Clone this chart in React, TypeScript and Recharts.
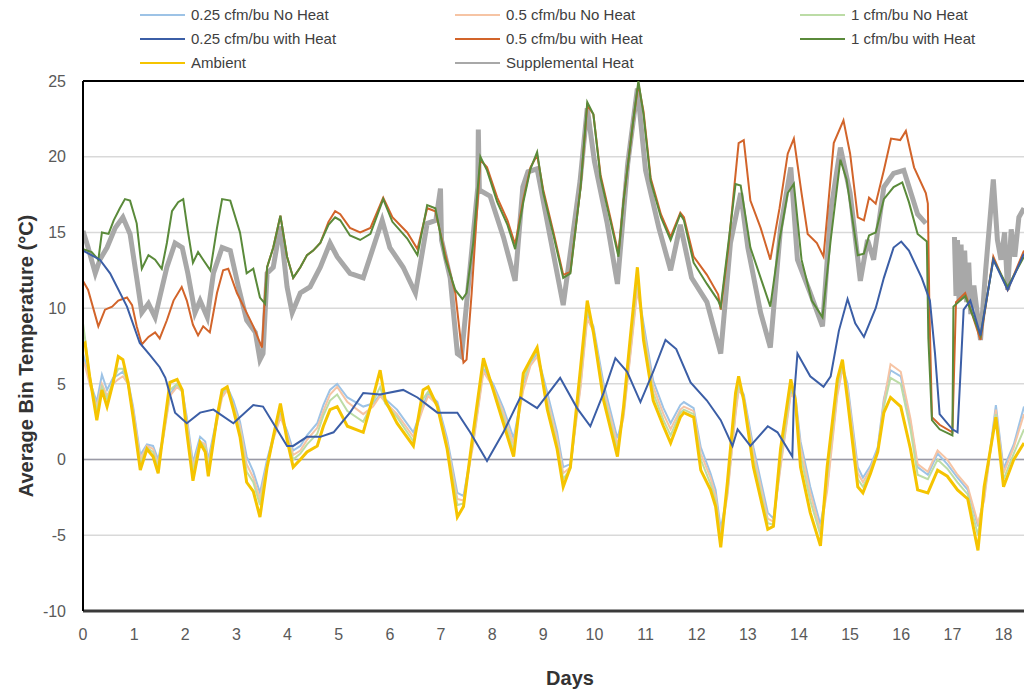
import { LineChart, Line, XAxis, YAxis, CartesianGrid, ReferenceLine, Legend } from "recharts";

// days shared by ambient and the three no-heat bins
const lowDays = [
  0, 0.04, 0.13, 0.27, 0.37, 0.47, 0.59, 0.69, 0.78, 0.88, 0.98, 1.12, 1.25, 1.37, 1.47, 1.57, 1.7, 1.84, 1.94,
  2.03, 2.15, 2.29, 2.39, 2.45, 2.62, 2.72, 2.82, 2.94, 3.07, 3.2, 3.33, 3.46, 3.6, 3.72, 3.86, 3.99, 4.11, 4.25,
  4.38, 4.58, 4.7, 4.83, 4.97, 5.17, 5.48, 5.67, 5.81, 5.91, 6.14, 6.46, 6.65, 6.75, 6.93, 7.12, 7.32, 7.44, 7.63,
  7.83, 8.02, 8.22, 8.42, 8.61, 8.75, 8.88, 9.08, 9.27, 9.39, 9.53, 9.73, 9.86, 9.98, 10.18, 10.45, 10.57, 10.7,
  10.84, 10.96, 11.15, 11.35, 11.49, 11.68, 11.75, 11.94, 12.08, 12.27, 12.37, 12.47, 12.6, 12.76, 12.82, 12.92,
  13.11, 13.39, 13.5, 13.64, 13.84, 13.93, 14.03, 14.22, 14.42, 14.55, 14.75, 14.85, 14.95, 15.15, 15.25, 15.4,
  15.54, 15.66, 15.79, 15.99, 16.18, 16.32, 16.52, 16.71, 16.9, 17.1, 17.3, 17.5, 17.62, 17.85, 18.0, 18.2, 18.4,
];
const ambient = [
  7.6, 7.7, 5.5, 2.6, 4.6, 3.5, 5.1, 6.8, 6.6, 5.1, 2.8, -0.7, 0.7, 0.2, -0.9, 1.8, 5.1, 5.3, 4.6,
  1.8, -1.4, 1.1, 0.5, -1.1, 2.8, 4.6, 4.8, 3.3, 1.5, -1.5, -2.1, -3.8, -0.5, 1.5, 3.7, 1.3, -0.5, 0,
  0.5, 0.9, 2.2, 3.3, 3.5, 2.2, 1.8, 4.1, 5.9, 3.9, 2.4, 0.9, 4.6, 4.8, 3.5, 0.7, -3.8, -3.1, 1.8,
  6.7, 4.6, 2.4, 0.2, 5.7, 6.6, 7.4, 3.3, 0.7, -1.8, -0.5, 6.1, 10.5, 8.4, 3.9, 0.2, 3.5, 8.0,
  12.7, 7.9, 3.9, 2.2, 1.1, 2.8, 3.1, 2.8, -0.7, -2.0, -3.1, -5.8, -1.5, 4.4, 5.5, 3.9,
  -0.5, -4.6, -4.4, 0.7, 5.3, 3.9, -0.5, -3.5, -5.7, -0.5, 5.3, 6.6, 3.9, -1.8, -2.2, -0.9,
  0.5, 3.1, 4.1, 3.5, 0.7, -2.0, -2.2, -0.7, -1.1, -2.0, -2.6, -6.0, -1.8, 2.8, -1.8, 0, 1.1,
];
const noHeat025 = [
  7.0, 6.5, 5.2, 3.8, 5.6, 4.6, 5.4, 5.6, 5.8, 5.2, 3.5, 0.3, 1.0, 0.9, 0.0, 1.6, 4.3, 5.0, 4.6,
  2.8, -0.2, 1.5, 1.2, 0.0, 2.8, 4.3, 4.8, 3.9, 2.5, 0.2, -0.8, -2.2, 0.0, 1.5, 3.0, 1.9, 0.6, 0.9,
  1.6, 2.4, 3.6, 4.6, 5.0, 4.1, 3.5, 3.7, 4.3, 4.0, 3.3, 1.8, 3.6, 4.4, 3.8, 1.4, -2.2, -2.4, 1.2,
  6.0, 5.0, 3.4, 1.4, 4.8, 6.4, 7.0, 4.4, 1.8, -0.5, -0.3, 5.0, 9.6, 8.8, 5.0, 1.4, 3.0, 7.0,
  11.5, 9.0, 5.2, 3.4, 2.4, 3.6, 3.8, 3.4, 0.8, -0.9, -2.0, -4.6, -2.2, 3.2, 4.8, 4.3,
  0.8, -3.5, -3.9, -0.3, 4.5, 4.2, 1.2, -1.8, -4.3, -1.8, 4.5, 6.2, 5.0, -0.5, -1.2, -0.4,
  0.8, 4.0, 5.9, 5.5, 2.5, -0.5, -1.0, 0.4, -0.3, -1.2, -2.0, -4.4, -2.5, 3.6, -0.6, 1.0, 3.5,
];
const noHeat05 = [
  6.5, 6.2, 5.0, 3.5, 5.0, 4.2, 5.0, 5.3, 5.5, 5.0, 3.3, 0.0, 0.9, 0.7, -0.3, 1.4, 4.2, 4.8, 4.5,
  2.5, -0.5, 1.2, 1.0, -0.3, 2.5, 4.1, 4.6, 3.6, 2.2, -0.3, -1.2, -2.6, -0.3, 1.3, 2.8, 1.7, 0.3, 0.6,
  1.3, 2.1, 3.2, 4.3, 4.8, 3.8, 3.0, 3.5, 4.2, 3.8, 3.0, 1.5, 3.4, 4.2, 3.6, 1.1, -2.6, -2.7, 1.0,
  5.8, 4.8, 3.1, 1.0, 4.6, 6.2, 6.8, 4.0, 1.4, -0.9, -0.5, 4.8, 9.3, 8.5, 4.6, 1.0, 2.8, 6.8,
  11.2, 8.6, 4.8, 3.0, 2.0, 3.3, 3.5, 3.2, 0.4, -1.2, -2.4, -5.0, -2.4, 3.0, 4.6, 4.1,
  0.4, -3.9, -4.1, -0.5, 4.3, 4.0, 0.8, -2.2, -4.7, -2.1, 4.2, 6.0, 4.7, -0.9, -1.5, -0.6,
  0.6, 3.8, 6.3, 5.8, 2.7, -0.3, -0.8, 0.6, 0.0, -1.0, -1.8, -4.2, -2.7, 3.3, -0.9, 0.8, 3.0,
];
const noHeat1 = [
  9.0, 8.0, 5.5, 3.2, 4.8, 4.0, 5.2, 6.0, 6.0, 5.0, 3.0, -0.3, 0.8, 0.5, -0.5, 1.6, 4.6, 5.0, 4.5,
  2.2, -0.8, 1.2, 0.8, -0.5, 2.6, 4.4, 4.8, 3.5, 1.9, -0.8, -1.5, -3.0, -0.4, 1.4, 3.4, 1.5, 0.0, 0.4,
  1.0, 1.7, 2.9, 3.9, 4.3, 3.2, 2.5, 3.8, 4.8, 3.7, 2.8, 1.2, 4.0, 4.5, 3.6, 0.9, -3.0, -2.9, 1.4,
  6.4, 4.7, 2.8, 0.6, 5.2, 6.5, 7.2, 3.7, 1.0, -1.3, -0.6, 5.5, 10.0, 8.6, 4.3, 0.6, 3.2, 7.5,
  12.0, 8.4, 4.4, 2.6, 1.6, 3.1, 3.3, 3.0, 0.0, -1.6, -2.7, -5.3, -2.0, 3.8, 5.0, 4.0,
  0.0, -4.2, -4.3, 0.0, 4.8, 3.9, 0.3, -2.7, -5.0, -1.2, 4.8, 6.3, 4.3, -1.3, -1.8, -0.8,
  0.6, 3.5, 5.4, 5.0, 2.0, -1.0, -1.3, 0.0, -0.6, -1.5, -2.3, -5.0, -2.2, 3.0, -1.3, 0.4, 2.0,
];

const heat025Days = [
  0, 0.33, 0.53, 0.86, 1.11, 1.31, 1.5, 1.61, 1.8, 2.03, 2.29, 2.55, 2.94, 3.33, 3.52, 3.72, 3.99, 4.11, 4.38,
  4.64, 4.9, 5.22, 5.48, 5.81, 6.26, 6.54, 6.93, 7.32, 7.57, 7.9, 8.22, 8.55, 8.88, 9.33, 9.66, 9.92, 10.18,
  10.41, 10.64, 10.9, 11.15, 11.39, 11.6, 11.88, 12.2, 12.47, 12.7, 12.8, 13.05, 13.39, 13.58, 13.87, 13.9,
  13.97, 14.22, 14.48, 14.62, 14.78, 14.95, 15.1, 15.27, 15.5, 15.66, 15.85, 16.0, 16.15, 16.4, 16.56, 16.66,
  16.75, 17.0, 17.1, 17.22, 17.35, 17.55, 17.8, 18.08, 18.4,
];
const heat025 = [
  13.8, 13.2, 12.3, 10.1, 7.7, 6.9, 6.1, 5.4, 3.1, 2.4, 3.1, 3.3, 2.4, 3.6, 3.5, 2.4, 0.9, 0.9, 1.5,
  1.5, 1.8, 3.1, 4.4, 4.3, 4.6, 4.1, 3.1, 3.1, 1.8, -0.1, 1.8, 4.1, 3.4, 5.4, 3.4, 2.2, 4.4,
  6.7, 5.8, 3.8, 5.8, 7.9, 7.3, 5.1, 3.9, 2.6, 0.9, 2.0, 0.9, 2.2, 1.8, 0.2, 4.0,
  7.0, 5.5, 4.8, 5.5, 8.5, 10.6, 9.0, 8.1, 10.0, 12.0, 14.0, 14.4, 13.8, 12.0, 10.5, 7.0,
  3.0, 2.0, 1.8, 9.9, 10.5, 8.2, 13.2, 11.2, 13.6,
];

const heat05Days = [
  0, 0.1, 0.3, 0.43, 0.57, 0.69, 0.86, 0.96, 1.05, 1.15, 1.28, 1.41, 1.5, 1.64, 1.77, 1.93, 2.03, 2.15, 2.25,
  2.35, 2.48, 2.62, 2.74, 2.84, 3.01, 3.17, 3.33, 3.5, 3.56, 3.6, 3.72, 3.86, 3.99, 4.11, 4.25, 4.38, 4.5, 4.64,
  4.8, 4.93, 5.03, 5.22, 5.42, 5.62, 5.87, 6.05, 6.34, 6.54, 6.73, 6.89, 7.08, 7.28, 7.38, 7.44, 7.5, 7.6, 7.77,
  7.9, 8.1, 8.3, 8.45, 8.61, 8.75, 8.88, 9.0, 9.2, 9.39, 9.53, 9.73, 9.86, 9.98, 10.12, 10.31, 10.47, 10.57,
  10.76, 10.86, 10.96, 11.1, 11.3, 11.49, 11.68, 11.75, 11.94, 12.2, 12.42, 12.47, 12.62, 12.72, 12.82, 12.92,
  13.05, 13.25, 13.44, 13.62, 13.78, 13.9, 14.05, 14.17, 14.35, 14.48, 14.68, 14.87, 15.0, 15.15, 15.27, 15.37,
  15.5, 15.66, 15.8, 15.98, 16.09, 16.25, 16.48, 16.52, 16.55, 16.6, 16.75, 17.0, 17.07, 17.25, 17.55, 17.8,
  18.08, 18.4,
];
const heat05 = [
  11.8, 11.2, 8.8, 9.9, 10.1, 10.5, 10.7, 10.2, 8.8, 7.6, 8.1, 8.4, 8.0, 9.2, 10.5, 11.4, 10.5, 8.9, 8.2,
  8.8, 8.4, 11.0, 12.5, 12.6, 11.0, 9.9, 8.8, 7.4, 11.0, 12.7, 14.0, 16.1, 13.4, 12.0, 12.7, 13.5, 13.8, 14.3,
  15.7, 16.4, 16.2, 15.3, 15.0, 15.3, 17.3, 16.0, 15.0, 13.9, 16.6, 16.4, 13.6, 11.0, 8.0, 6.4, 6.6, 11.0, 19.8,
  19.3, 17.3, 15.8, 14.2, 17.2, 19.3, 20.1, 17.8, 15.0, 12.2, 12.4, 18.0, 23.4, 22.8, 18.8, 16.0, 13.6, 17.1,
  22.4, 24.8, 23.0, 18.6, 16.2, 14.7, 16.3, 16.0, 13.4, 12.2, 10.9, 9.9, 14.0, 17.5, 20.9, 21.1,
  17.1, 15.3, 13.2, 16.6, 20.2, 21.2, 17.6, 14.9, 14.3, 13.4, 20.9, 22.4, 20.2, 16.0, 15.8, 17.3,
  16.9, 19.1, 21.2, 21.1, 21.7, 19.3, 17.6, 16.9, 10.0, 2.8, 2.3, 1.8, 10.4, 11.0, 7.9, 13.4,
  11.2, 13.8,
];

const heat1Days = [
  0, 0.17, 0.3, 0.37, 0.5, 0.6, 0.72, 0.82, 0.92, 1.05, 1.15, 1.28, 1.41, 1.54, 1.64, 1.74, 1.86, 1.96, 2.05,
  2.15, 2.25, 2.35, 2.49, 2.62, 2.72, 2.88, 3.07, 3.2, 3.33, 3.46, 3.56, 3.6, 3.72, 3.86, 3.99, 4.11, 4.25, 4.38,
  4.5, 4.64, 4.8, 4.93, 5.03, 5.22, 5.42, 5.62, 5.87, 6.05, 6.34, 6.54, 6.73, 6.89, 7.08, 7.28, 7.42, 7.5, 7.63,
  7.77, 7.9, 8.1, 8.3, 8.45, 8.61, 8.75, 8.88, 9.0, 9.2, 9.39, 9.53, 9.73, 9.86, 9.98, 10.12, 10.31, 10.47,
  10.57, 10.76, 10.86, 10.96, 11.1, 11.3, 11.49, 11.68, 11.75, 11.94, 12.2, 12.42, 12.47, 12.62, 12.76, 12.86,
  13.05, 13.25, 13.44, 13.62, 13.78, 13.9, 14.05, 14.25, 14.46, 14.62, 14.81, 14.93, 15.15, 15.27, 15.37, 15.5,
  15.66, 15.85, 16.02, 16.15, 16.32, 16.5, 16.53, 16.6, 16.75, 17.0, 17.02, 17.25, 17.55, 17.8, 18.08, 18.4,
];
const heat1 = [
  13.9, 13.7, 13.2, 15.0, 14.9, 15.8, 16.6, 17.2, 17.1, 15.6, 12.6, 13.5, 13.2, 12.6, 14.3, 16.4, 17.0, 17.2, 15.1,
  13.0, 13.7, 13.2, 12.5, 15.3, 17.2, 17.1, 15.0, 12.3, 12.6, 10.7, 10.3, 12.7, 14.0, 16.1, 13.4, 12.0, 12.7, 13.5,
  13.8, 14.3, 15.5, 16.0, 15.8, 14.8, 14.5, 14.9, 17.2, 15.7, 14.6, 13.5, 16.8, 16.6, 13.3, 11.2, 10.6, 11.0, 14.3,
  20.0, 19.1, 17.0, 15.5, 13.9, 17.0, 19.2, 20.3, 17.6, 14.8, 12.0, 12.3, 18.0, 23.6, 22.8, 18.6, 15.8, 13.4,
  17.1, 22.4, 25.0, 22.8, 18.4, 16.0, 14.5, 16.2, 15.8, 13.0, 11.6, 10.5, 10.1, 14.3, 18.2, 18.1,
  14.0, 12.0, 10.1, 14.5, 17.6, 18.2, 13.2, 10.5, 9.4, 14.5, 19.8, 18.5, 13.5, 13.6, 14.8, 15.0,
  17.2, 18.0, 18.3, 17.0, 14.9, 14.4, 8.0, 2.6, 2.0, 1.6, 10.1, 10.8, 8.2, 13.2, 11.4, 13.4,
];

const suppDays = [
  0, 0.1, 0.24, 0.33, 0.47, 0.63, 0.78, 0.92, 1.05, 1.15, 1.28, 1.41, 1.5, 1.64, 1.8, 1.94, 2.05, 2.19, 2.29,
  2.43, 2.55, 2.72, 2.88, 3.04, 3.2, 3.37, 3.46, 3.52, 3.6, 3.72, 3.86, 3.99, 4.09, 4.25, 4.44, 4.64, 4.83, 4.97,
  5.22, 5.48, 5.85, 6.0, 6.26, 6.5, 6.73, 6.9, 6.99, 7.01, 7.18, 7.32, 7.4, 7.55, 7.72, 7.73, 7.75, 7.96, 8.22,
  8.45, 8.6, 8.7, 8.88, 9.1, 9.39, 9.72, 9.86, 10.0, 10.25, 10.45, 10.65, 10.84, 11.0, 11.26, 11.49, 11.68, 11.9,
  12.2, 12.47, 12.66, 12.86, 13.0, 13.25, 13.44, 13.64, 13.84, 13.97, 14.22, 14.46, 14.62, 14.81, 15.0, 15.2,
  15.34, 15.46, 15.66, 15.85, 16.05, 16.32, 16.48, 16.52, 17.0, 17.04, 17.07, 17.1, 17.13, 17.17, 17.2, 17.24,
  17.28, 17.32, 17.36, 17.42, 17.55, 17.65, 17.8, 17.88, 17.95, 18.02, 18.08, 18.15, 18.22, 18.3, 18.4,
];
const supp = [
  15.1, 14.0, 12.3, 13.2, 14.0, 15.3, 16.0, 14.9, 12.0, 9.7, 10.3, 9.4, 10.7, 12.7, 14.3, 14.0, 12.3, 9.7, 10.5,
  9.4, 12.3, 14.0, 13.8, 11.4, 9.2, 8.4, 6.6, 7.0, 12.3, 12.7, 15.4, 11.4, 9.7, 11.0, 11.4, 12.7, 14.3, 13.4,
  12.3, 12.0, 15.8, 14.0, 12.7, 11.0, 15.6, 15.8, 17.9, 14.5, 12.0, 7.0, 6.8, 12.0, 18.0, 21.8, 17.8, 17.4, 14.7,
  11.8, 18.0, 19.0, 19.2, 15.3, 10.2, 18.4, 23.2, 19.7, 15.6, 11.6, 19.5, 24.5, 19.1, 15.3, 12.5, 15.5, 12.0,
  10.4, 7.0, 14.3, 17.6, 14.0, 9.7, 7.4, 15.3, 19.3, 13.2, 11.0, 8.8, 16.4, 20.6, 17.6, 11.8,
  14.5, 13.2, 18.0, 18.9, 19.1, 16.2, 15.6, null, null, 14.7, 10.8, 14.5, 10.5, 14.2, 10.6, 13.8,
  10.4, 13.0, 9.6, 11.5, 7.9, 12.5, 18.5, 14.5, 13.2, 15.0, 11.2, 15.2, 13.4, 16.0, 16.6,
];

const dayTicks = [0, 1, 2, 3, 4, 5, 6, 7, 8, 9, 10, 11, 12, 13, 14, 15, 16, 17, 18];
const tempTicks = [-10, -5, 0, 5, 10, 15, 20, 25];

const legendRows = [
  ["0.25 cfm/bu No Heat", "0.5 cfm/bu No Heat", "1 cfm/bu No Heat"],
  ["0.25 cfm/bu with Heat", "0.5 cfm/bu with Heat", "1 cfm/bu with Heat"],
  ["Ambient", "Supplemental Heat"],
];

const colors: Record<string, string> = {
  "0.25 cfm/bu No Heat": "#9dc3e6",
  "0.5 cfm/bu No Heat": "#f6c4a4",
  "1 cfm/bu No Heat": "#bcdca6",
  "0.25 cfm/bu with Heat": "#3b5ea6",
  "0.5 cfm/bu with Heat": "#d2642a",
  "1 cfm/bu with Heat": "#5a8a3a",
  Ambient: "#f5c400",
  "Supplemental Heat": "#a8a8a8",
};

const pts = (days: number[], vals: (number | null)[]) => days.map((day, i) => ({ day, t: vals[i] }));

const font = "'Liberation Sans', Arial, sans-serif";
const colX = [140, 455, 800];

const renderLegend = () => (
  <div style={{ position: "relative", width: 1024, height: 78, fontFamily: font, fontSize: 15, color: "#404040" }}>
    {legendRows.map((row, r) =>
      row.map((name, c) => (
        <div key={name} style={{ position: "absolute", left: colX[c], top: 6 + r * 24, display: "flex", alignItems: "center" }}>
          <span style={{ display: "inline-block", width: 45, height: 2, background: colors[name], marginRight: 6 }} />
          <span>{name}</span>
        </div>
      ))
    )}
  </div>
);

const yTitle = () => (
  <text transform="translate(26,356) rotate(-90)" textAnchor="middle" dominantBaseline="central"
    fontFamily={font} fontWeight={700} fontSize={20} fill="#333">
    Average Bin Temperature (°C)
  </text>
);

const xTitle = () => (
  <text x={570} y={678} textAnchor="middle" dominantBaseline="central"
    fontFamily={font} fontWeight={700} fontSize={20} fill="#333">
    Days
  </text>
);

export default function App() {
  return (
    <div style={{ position: "absolute", left: 0, top: 0, width: 1024, height: 692, overflow: "hidden", background: "#fff" }}>
      <LineChart width={1024} height={692} margin={{ top: 3, right: 0, bottom: 0, left: 0 }}>
        <Legend verticalAlign="top" content={renderLegend} wrapperStyle={{ top: 0, left: 0, width: 1024, height: 78 }} />
        <CartesianGrid vertical={false} stroke="#d9d9d9" strokeWidth={1.5} />
        <XAxis
          type="number"
          dataKey="day"
          domain={[0, 18.4]}
          ticks={dayTicks}
          allowDataOverflow
          height={81}
          tickLine={false}
          tickSize={0}
          tickMargin={18}
          axisLine={{ stroke: "#3a3a3a", strokeWidth: 3 }}
          tick={{ fill: "#595959", fontSize: 16, fontFamily: font }}
          label={{ content: xTitle }}
        />
        <YAxis
          type="number"
          domain={[-10, 25]}
          ticks={tempTicks}
          allowDataOverflow
          width={83}
          tickLine={false}
          tickSize={0}
          tickMargin={17}
          axisLine={{ stroke: "#000", strokeWidth: 2 }}
          tick={{ fill: "#595959", fontSize: 16, fontFamily: font }}
          label={{ content: yTitle }}
        />
        <ReferenceLine y={0} stroke="#9a9aa6" strokeWidth={1.5} />
        <ReferenceLine y={25} stroke="#000" strokeWidth={2} />
        <Line data={pts(lowDays, noHeat025)} dataKey="t" name="0.25 cfm/bu No Heat" stroke={colors["0.25 cfm/bu No Heat"]} strokeWidth={2} dot={false} isAnimationActive={false} />
        <Line data={pts(lowDays, noHeat05)} dataKey="t" name="0.5 cfm/bu No Heat" stroke={colors["0.5 cfm/bu No Heat"]} strokeWidth={2} dot={false} isAnimationActive={false} />
        <Line data={pts(lowDays, noHeat1)} dataKey="t" name="1 cfm/bu No Heat" stroke={colors["1 cfm/bu No Heat"]} strokeWidth={2} dot={false} isAnimationActive={false} />
        <Line data={pts(lowDays, ambient)} dataKey="t" name="Ambient" stroke={colors.Ambient} strokeWidth={3} dot={false} isAnimationActive={false} />
        <Line data={pts(suppDays, supp)} dataKey="t" name="Supplemental Heat" stroke={colors["Supplemental Heat"]} strokeWidth={5} dot={false} connectNulls={false} isAnimationActive={false} />
        <Line data={pts(heat05Days, heat05)} dataKey="t" name="0.5 cfm/bu with Heat" stroke={colors["0.5 cfm/bu with Heat"]} strokeWidth={2} dot={false} isAnimationActive={false} />
        <Line data={pts(heat1Days, heat1)} dataKey="t" name="1 cfm/bu with Heat" stroke={colors["1 cfm/bu with Heat"]} strokeWidth={2} dot={false} isAnimationActive={false} />
        <Line data={pts(heat025Days, heat025)} dataKey="t" name="0.25 cfm/bu with Heat" stroke={colors["0.25 cfm/bu with Heat"]} strokeWidth={2} dot={false} isAnimationActive={false} />
      </LineChart>
    </div>
  );
}
